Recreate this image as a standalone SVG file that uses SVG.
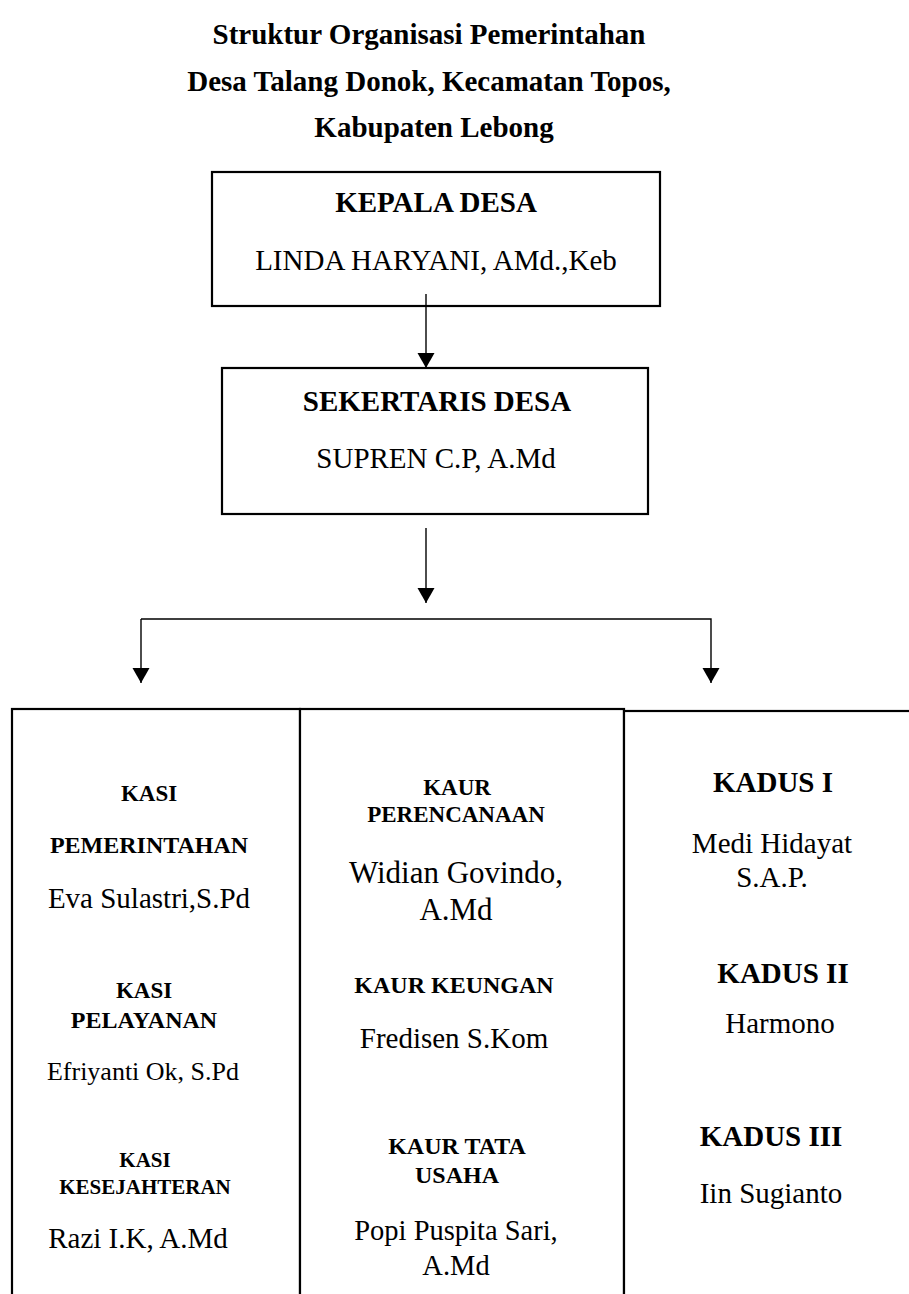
<svg xmlns="http://www.w3.org/2000/svg" width="909" height="1294" viewBox="0 0 909 1294">
<style>
text{font-family:"Liberation Serif","Times New Roman",serif;fill:#000;text-anchor:middle}
.b{font-weight:bold}
.box{fill:#fff;stroke:#000;stroke-width:2.2}
.con{fill:none;stroke:#000;stroke-width:1.4}
</style>
<defs>
<marker id="ah" markerUnits="userSpaceOnUse" markerWidth="16" markerHeight="18" refX="15" refY="8.5" orient="auto" viewBox="0 0 16 18">
<path d="M0,0 L15,8.5 L0,17 z" fill="#000"/>
</marker>
</defs>
<rect width="909" height="1294" fill="#fff"/>
<g id="title" class="b">
<text x="429" y="44" font-size="29" class="b">Struktur Organisasi Pemerintahan</text>
<text x="429" y="91" font-size="29" class="b">Desa Talang Donok, Kecamatan Topos,</text>
<text x="434" y="137" font-size="29" class="b">Kabupaten Lebong</text>
</g>
<g id="kepala-desa">
<rect class="box" x="212" y="172" width="448" height="134"/>
<text x="436" y="212" font-size="29" class="b">KEPALA DESA</text>
<text x="436" y="270" font-size="29">LINDA HARYANI, AMd.,Keb</text>
</g>
<g id="sekertaris-desa">
<rect class="box" x="222" y="368" width="426" height="146"/>
<text x="437" y="411" font-size="29" class="b">SEKERTARIS DESA</text>
<text x="436" y="468" font-size="29">SUPREN C.P, A.Md</text>
</g>
<g id="connectors">
<path class="con" d="M426,294 V368" marker-end="url(#ah)"/>
<path class="con" d="M426,528 V603" marker-end="url(#ah)"/>
<path class="con" d="M141,619 H711 V683" marker-end="url(#ah)"/>
<path class="con" d="M141,619 V683" marker-end="url(#ah)"/>
</g>
<g id="kasi">
<rect class="box" x="12" y="709" width="288" height="620"/>
<text x="149" y="801" font-size="23" class="b">KASI</text>
<text x="149" y="853" font-size="24" class="b">PEMERINTAHAN</text>
<text x="149" y="908" font-size="29">Eva Sulastri,S.Pd</text>
<text x="144" y="998" font-size="23" class="b">KASI</text>
<text x="144" y="1028" font-size="24" class="b">PELAYANAN</text>
<text x="143" y="1080" font-size="26">Efriyanti Ok, S.Pd</text>
<text x="145" y="1167" font-size="21" class="b">KASI</text>
<text x="145" y="1194" font-size="21" class="b">KESEJAHTERAN</text>
<text x="138" y="1248" font-size="29">Razi I.K, A.Md</text>
</g>
<g id="kaur">
<rect class="box" x="300" y="709" width="324" height="620"/>
<text x="457" y="795" font-size="23" class="b">KAUR</text>
<text x="456" y="822" font-size="23" class="b">PERENCANAAN</text>
<text x="456" y="883" font-size="31">Widian Govindo,</text>
<text x="456" y="920" font-size="31">A.Md</text>
<text x="454" y="993" font-size="24" class="b">KAUR KEUNGAN</text>
<text x="454" y="1048" font-size="29">Fredisen S.Kom</text>
<text x="457" y="1154" font-size="24" class="b">KAUR TATA</text>
<text x="457" y="1183" font-size="24" class="b">USAHA</text>
<text x="456" y="1240" font-size="28.5">Popi Puspita Sari,</text>
<text x="456" y="1275" font-size="28.5">A.Md</text>
</g>
<g id="kadus">
<rect class="box" x="624" y="711" width="320" height="620"/>
<text x="773" y="792" font-size="29" class="b">KADUS I</text>
<text x="772" y="853" font-size="29">Medi Hidayat</text>
<text x="772" y="887" font-size="29">S.A.P.</text>
<text x="783" y="983" font-size="29" class="b">KADUS II</text>
<text x="780" y="1033" font-size="29">Harmono</text>
<text x="771" y="1146" font-size="29" class="b">KADUS III</text>
<text x="771" y="1203" font-size="29">Iin Sugianto</text>
</g>
</svg>
